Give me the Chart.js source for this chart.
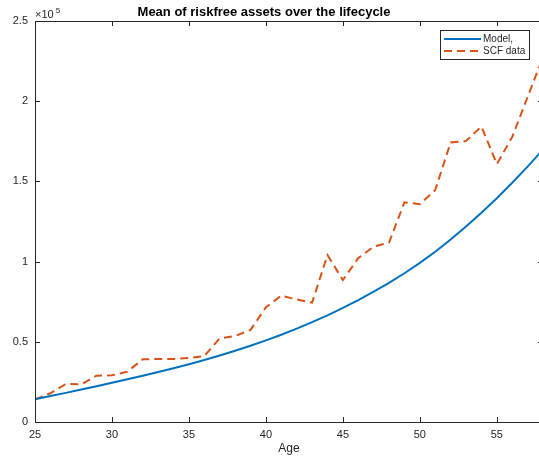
<!DOCTYPE html>
<html>
<head>
<meta charset="utf-8">
<title>Mean of riskfree assets over the lifecycle</title>
<script src="https://cdn.jsdelivr.net/npm/chart.js@4.4.1/dist/chart.umd.min.js"></script>
<style>
    html, body { margin: 0; padding: 0; background: #fff; }
    #wrap { width: 539px; height: 458px; overflow: hidden; position: relative; }
    #chart { position: absolute; left: 0; top: 0; }
</style>
</head>
<body>
<div id="wrap"><canvas id="chart" width="544" height="458"></canvas></div>
<script>
"use strict";

// values
const ages = [25, 26, 27, 28, 29, 30, 31, 32, 33, 34, 35, 36, 37, 38, 39, 40, 41,
              42, 43, 44, 45, 46, 47, 48, 49, 50, 51, 52, 53, 54, 55, 56, 57, 58];
const modelAssets = [14150, 16150, 18170, 20220, 22300, 24420, 26590, 28820, 31120, 33510,
                     36010, 38640, 41420, 44370, 47510, 50860, 54410, 58190, 62220, 66520,
                     71120, 76020, 81220, 86770, 92720, 99170, 106170, 113720, 121820, 130420,
                     139520, 149120, 159220, 169820];
const scfAssets = [14200, 17900, 23700, 23500, 28900, 29100, 31400, 39100, 39300, 39300,
                   39900, 41100, 52200, 53600, 57400, 71500, 78800, 76400, 74400, 104100,
                   88500, 102200, 109300, 111900, 137000, 135800, 144600, 174300, 175200, 184200,
                   160800, 177700, 202600, 227500];
const seriesNames = ['Model,', 'SCF data'];
const xTicks = [25, 30, 35, 40, 45, 50, 55];
const yTicks = [0, 50000, 100000, 150000, 200000, 250000];

var InitChart = function () {
    var blue = '#0072bd';
    var orange = '#d95319';
    var axisColor = '#262626';
    var font = '"Liberation Sans", Arial, Helvetica, sans-serif';

    // MATLAB look: box with inward ticks, title, exponent, xlabel and boxed legend
    var matlabAxes = {
        id: 'matlabAxes',
        afterDraw: function (chart) {
            const ctx = chart.ctx;
            const area = chart.chartArea;
            const xs = chart.scales.x;
            const ys = chart.scales.y;
            const tl = 5;

            ctx.save();
            ctx.strokeStyle = axisColor;
            ctx.lineWidth = 1;
            ctx.beginPath();
            ctx.rect(area.left + 0.5, area.top + 0.5, area.right - area.left - 1, area.bottom - area.top);
            xTicks.forEach(v => {
                const px = Math.round(xs.getPixelForValue(v)) + 0.5;
                ctx.moveTo(px, area.bottom);
                ctx.lineTo(px, area.bottom - tl);
                ctx.moveTo(px, area.top);
                ctx.lineTo(px, area.top + tl);
            });
            yTicks.forEach(v => {
                const py = Math.round(ys.getPixelForValue(v)) + 0.5;
                ctx.moveTo(area.left, py);
                ctx.lineTo(area.left + tl, py);
                ctx.moveTo(area.right, py);
                ctx.lineTo(area.right - tl, py);
            });
            ctx.stroke();

            // title
            ctx.fillStyle = '#000';
            ctx.font = 'bold 13px ' + font;
            ctx.textAlign = 'center';
            ctx.textBaseline = 'alphabetic';
            ctx.fillText('Mean of riskfree assets over the lifecycle', 264, 16);

            // x label
            ctx.fillStyle = axisColor;
            ctx.font = '12px ' + font;
            ctx.fillText('Age', (area.left + area.right) / 2, 452);

            // exponent
            ctx.textAlign = 'left';
            ctx.font = '11px ' + font;
            ctx.fillText('\u00d710', area.left, 18);
            const ew = ctx.measureText('\u00d710').width;
            ctx.font = '8px ' + font;
            ctx.fillText('5', area.left + ew + 2, 13);

            // legend
            const lx = 440, ly = 30, lw = 89, lh = 29;
            ctx.fillStyle = '#fff';
            ctx.fillRect(lx, ly, lw, lh);
            ctx.strokeStyle = axisColor;
            ctx.strokeRect(lx + 0.5, ly + 0.5, lw, lh);
            ctx.font = '10px ' + font;
            ctx.textBaseline = 'middle';
            chart.data.datasets.forEach((ds, i) => {
                const yy = ly + 9 + i * 12;
                ctx.beginPath();
                ctx.strokeStyle = ds.borderColor;
                ctx.lineWidth = ds.borderWidth;
                ctx.setLineDash(ds.borderDash || []);
                ctx.moveTo(lx + 4, yy);
                ctx.lineTo(lx + 41, yy);
                ctx.stroke();
                ctx.setLineDash([]);
                ctx.fillStyle = axisColor;
                ctx.fillText(ds.label, lx + 43, yy);
            });
            ctx.restore();
        }
    };

    var drawChart = function () {
        const canvas = document.querySelector('#chart');
        if (!canvas) {
            return;
        }

        var config = {
            type: 'line',
            data: {
                datasets: [
                    {
                        label: seriesNames[0],
                        data: ages.map((a, i) => ({ x: a, y: modelAssets[i] })),
                        borderColor: blue,
                        backgroundColor: blue,
                        borderWidth: 2,
                        pointRadius: 0,
                        tension: 0
                    },
                    {
                        label: seriesNames[1],
                        data: ages.map((a, i) => ({ x: a, y: scfAssets[i] })),
                        borderColor: orange,
                        backgroundColor: orange,
                        borderWidth: 2,
                        borderDash: [8, 5],
                        pointRadius: 0,
                        tension: 0
                    }
                ]
            },
            options: {
                responsive: false,
                animation: false,
                devicePixelRatio: 1,
                layout: {
                    padding: { top: 21, right: 1, bottom: 0, left: 0 }
                },
                plugins: {
                    legend: { display: false },
                    title: { display: false },
                    tooltip: { enabled: false }
                },
                scales: {
                    x: {
                        type: 'linear',
                        min: 25,
                        max: 58,
                        afterBuildTicks: s => { s.ticks = xTicks.map(v => ({ value: v })); },
                        afterFit: s => { s.height = 36; },
                        grid: { display: false, drawTicks: false },
                        border: { display: false },
                        ticks: {
                            padding: 6,
                            maxRotation: 0,
                            color: axisColor,
                            font: { family: font, size: 11 }
                        }
                    },
                    y: {
                        type: 'linear',
                        min: 0,
                        max: 250000,
                        afterBuildTicks: s => { s.ticks = yTicks.map(v => ({ value: v })); },
                        afterFit: s => { s.width = 35; },
                        grid: { display: false, drawTicks: false },
                        border: { display: false },
                        ticks: {
                            padding: 7,
                            color: axisColor,
                            font: { family: font, size: 11 },
                            callback: v => String(v / 100000)
                        }
                    }
                }
            },
            plugins: [matlabAxes]
        };

        new Chart(canvas.getContext('2d'), config);
    };

    return {
        init: function () {
            drawChart();
        }
    };
}();

InitChart.init();
</script>
</body>
</html>
